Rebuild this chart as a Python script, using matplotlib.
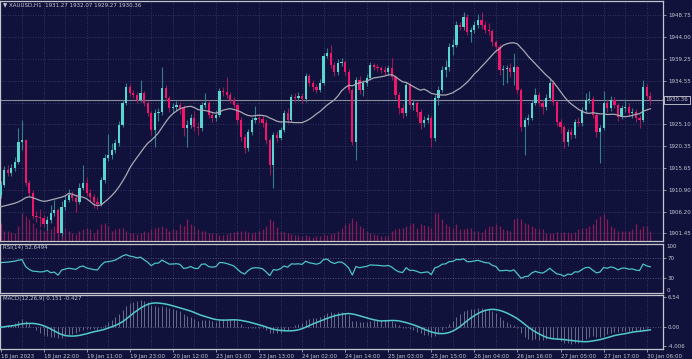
import numpy as np
import pandas as pd
import matplotlib
matplotlib.use('Agg')
import matplotlib.pyplot as plt


# XAUUSD H1, 18 Jan 2023 10:00 .. 30 Jan 2023 07:00
first_open = 1909.8
close = [
    1911.9, 1915.2, 1914.5, 1915.6, 1916.9, 1921.3, 1921.6, 1912.4, 1910.2, 1905.2,
    1905.0, 1904.8, 1903.6, 1904.3, 1905.9, 1906.5, 1901.6, 1907.2, 1908.7, 1909.8,
    1909.1, 1908.3, 1911.3, 1912.4, 1910.2, 1909.3, 1908.3, 1907.9, 1913.0, 1917.8,
    1918.4, 1919.5, 1921.0, 1924.9, 1929.7, 1933.2, 1931.9, 1931.4, 1930.4, 1931.9,
    1929.7, 1927.5, 1923.9, 1927.5, 1927.8, 1932.9, 1930.8, 1928.6, 1928.8, 1929.3,
    1928.6, 1924.3, 1924.9, 1926.5, 1924.5, 1924.3, 1929.3, 1929.7, 1927.1, 1926.5,
    1927.1, 1932.3, 1932.1, 1931.4, 1930.4, 1929.3, 1926.0, 1922.3, 1920.0, 1923.4,
    1926.0, 1926.5, 1926.3, 1925.4, 1921.7, 1916.3, 1922.8, 1922.1, 1923.9, 1927.5,
    1926.0, 1931.0, 1930.8, 1931.2, 1930.6, 1935.5, 1934.0, 1933.2, 1932.5, 1934.0,
    1939.9, 1940.5, 1937.9, 1936.4, 1938.4, 1938.6, 1936.4, 1932.5, 1921.3, 1934.7,
    1932.5, 1934.0, 1935.1, 1937.9, 1937.5, 1937.3, 1936.8, 1936.4, 1937.3, 1935.3,
    1931.4, 1928.6, 1927.5, 1933.6, 1929.3, 1929.6, 1927.8, 1925.4, 1926.0, 1926.5,
    1922.1, 1930.8, 1932.5, 1936.8, 1937.5, 1941.8, 1942.3, 1946.6, 1946.2, 1948.3,
    1945.1, 1945.5, 1946.6, 1947.7, 1946.6, 1945.5, 1945.3, 1942.9, 1941.8, 1936.8,
    1937.0, 1937.3, 1936.4, 1937.5, 1932.5, 1924.5, 1926.0, 1926.5, 1929.7, 1931.4,
    1929.7, 1928.8, 1930.8, 1934.0, 1929.9, 1925.6, 1924.5, 1921.3, 1923.4, 1922.8,
    1925.6, 1925.4, 1928.2, 1930.4, 1930.6, 1927.1, 1923.4, 1924.3, 1929.7, 1928.6,
    1930.4, 1929.3, 1926.7, 1928.6, 1928.8, 1927.5, 1927.8, 1926.5, 1926.0, 1933.2,
    1931.27, 1930.36,
]
high = [
    1912.8, 1916.0, 1916.2, 1916.4, 1918.0, 1924.3, 1926.0, 1922.0, 1913.0, 1910.8,
    1906.4, 1906.8, 1905.4, 1905.2, 1907.6, 1908.6, 1907.0, 1908.4, 1909.8, 1911.0,
    1910.6, 1910.0, 1912.4, 1916.2, 1913.6, 1911.0, 1910.0, 1909.4, 1913.6, 1918.6,
    1923.0, 1921.0, 1922.0, 1925.8, 1930.4, 1934.0, 1933.8, 1932.6, 1932.0, 1934.6,
    1932.4, 1930.2, 1928.0, 1928.4, 1928.6, 1937.5, 1933.6, 1931.2, 1929.8, 1930.2,
    1930.0, 1929.2, 1926.0, 1927.4, 1928.0, 1925.6, 1930.0, 1931.8, 1930.4, 1928.0,
    1928.2, 1933.0, 1933.2, 1935.3, 1932.0, 1931.0, 1929.8, 1926.6, 1923.0, 1924.0,
    1926.6, 1929.0, 1927.4, 1927.0, 1926.2, 1922.2, 1923.4, 1923.6, 1924.6, 1928.2,
    1928.6, 1931.6, 1931.8, 1932.0, 1931.8, 1936.2, 1936.0, 1934.6, 1933.8, 1934.8,
    1940.6, 1941.6, 1942.3, 1938.6, 1939.2, 1939.4, 1939.0, 1937.0, 1933.0, 1935.4,
    1935.6, 1934.6, 1936.0, 1938.6, 1938.4, 1938.2, 1937.8, 1937.6, 1938.0, 1939.4,
    1935.8, 1932.0, 1929.4, 1934.2, 1934.2, 1930.6, 1930.2, 1928.4, 1926.8, 1927.4,
    1927.0, 1931.4, 1933.4, 1937.6, 1939.0, 1942.6, 1943.6, 1947.4, 1947.2, 1949.4,
    1949.0, 1946.2, 1947.4, 1948.9, 1949.4, 1947.4, 1947.0, 1945.8, 1943.4, 1942.4,
    1938.0, 1938.0, 1938.4, 1940.6, 1938.0, 1933.0, 1926.6, 1927.4, 1930.4, 1933.0,
    1932.0, 1930.4, 1931.6, 1935.0, 1934.6, 1930.4, 1926.2, 1925.0, 1924.0, 1924.2,
    1926.2, 1926.6, 1928.8, 1931.8, 1932.2, 1931.2, 1927.6, 1925.0, 1932.2, 1930.4,
    1931.2, 1931.0, 1929.8, 1929.2, 1930.6, 1929.6, 1928.6, 1928.4, 1927.2, 1934.6,
    1933.8, 1932.07,
]
low = [
    1909.2, 1911.5, 1913.8, 1914.0, 1915.0, 1916.5, 1919.6, 1911.8, 1909.5, 1904.6,
    1904.0, 1902.9, 1902.8, 1902.2, 1903.8, 1905.2, 1900.9, 1901.0, 1906.6, 1908.2,
    1908.4, 1906.0, 1907.8, 1910.8, 1909.6, 1908.4, 1907.0, 1906.8, 1907.4, 1912.4,
    1917.2, 1917.6, 1918.8, 1920.4, 1924.4, 1929.2, 1931.2, 1930.8, 1929.6, 1929.9,
    1929.0, 1926.8, 1922.8, 1920.2, 1925.8, 1927.2, 1930.2, 1927.8, 1927.6, 1928.0,
    1927.4, 1922.6, 1920.2, 1924.2, 1923.6, 1922.8, 1923.6, 1928.6, 1926.4, 1925.6,
    1925.8, 1926.6, 1931.2, 1930.8, 1929.8, 1928.6, 1925.2, 1921.4, 1918.8, 1919.4,
    1922.8, 1925.4, 1925.4, 1924.6, 1920.8, 1914.1, 1911.3, 1921.2, 1921.6, 1923.4,
    1925.4, 1925.6, 1930.0, 1930.2, 1929.8, 1930.0, 1933.4, 1932.4, 1931.8, 1932.0,
    1933.6, 1939.4, 1937.2, 1935.6, 1935.8, 1937.6, 1935.8, 1931.8, 1920.6, 1917.4,
    1931.6, 1931.2, 1933.4, 1934.6, 1936.8, 1936.6, 1936.2, 1935.8, 1935.8, 1934.6,
    1930.6, 1927.4, 1926.4, 1926.8, 1928.4, 1928.2, 1926.6, 1924.0, 1924.6, 1925.4,
    1920.2, 1921.4, 1929.3, 1932.0, 1935.4, 1936.6, 1940.0, 1941.8, 1945.4, 1945.6,
    1944.4, 1942.9, 1944.8, 1946.0, 1945.8, 1944.8, 1944.4, 1942.0, 1940.8, 1935.8,
    1933.6, 1934.0, 1935.4, 1933.6, 1931.6, 1923.6, 1918.4, 1925.0, 1926.0, 1929.2,
    1929.0, 1927.4, 1928.2, 1930.2, 1929.2, 1924.8, 1923.2, 1920.0, 1920.4, 1921.8,
    1922.2, 1924.8, 1924.8, 1927.6, 1929.8, 1926.4, 1922.4, 1916.8, 1923.8, 1927.8,
    1928.0, 1928.6, 1925.8, 1926.2, 1927.8, 1926.8, 1926.4, 1925.6, 1924.2, 1925.6,
    1930.8, 1929.27,
]
tick_volume = [
    1800, 1000, 1000, 900, 800, 1500, 2800, 2500, 2200, 1800,
    1300, 1200, 1000, 1300, 1200, 1500, 2200, 2500, 1300, 1000,
    800, 700, 1000, 1200, 1300, 1200, 800, 1200, 1700, 1800,
    1500, 1000, 1200, 1300, 1300, 1000, 800, 800, 700, 800,
    1000, 900, 1200, 1300, 1400, 1500, 1300, 1000, 1200, 1100,
    1700, 1500, 2200, 1700, 1500, 1200, 1000, 1000, 800, 800,
    800, 600, 600, 700, 800, 900, 1000, 1000, 1000, 900,
    800, 900, 1000, 1200, 1500, 2200, 2000, 1400, 1000, 900,
    800, 700, 600, 600, 500, 600, 500, 400, 500, 500,
    700, 600, 700, 800, 1000, 1300, 1700, 1800, 2300, 2000,
    1500, 1300, 1000, 800, 700, 600, 500, 500, 600, 1000,
    1200, 1300, 1300, 1500, 1700, 1800, 1300, 1700, 1600, 1500,
    1300, 2800, 2800, 2200, 1700, 1500, 1300, 1700, 1200, 1200,
    1300, 1300, 1000, 1000, 900, 1200, 1500, 1500, 1700, 1500,
    1200, 1100, 1000, 2200, 2300, 2200, 1800, 1700, 1500, 1300,
    1200, 1200, 800, 800, 800, 900, 900, 900, 900, 800,
    900, 1200, 1300, 1300, 1500, 1700, 2200, 2500, 2700, 2200,
    1500, 1300, 1000, 1000, 1000, 1000, 1200, 1700, 1200, 1500,
    1500, 1000,
]
# indicator values on the first bars (their history lies left of the chart)
ma_head = [1907.2, 1907.4, 1907.6, 1907.8, 1908.0, 1908.3, 1908.7, 1909.2, 1909.4, 1909.2,
           1908.9, 1908.6, 1908.4, 1908.5, 1908.7, 1908.9, 1909.1, 1909.3, 1909.6]
rsi_head = [61, 61.5, 62, 63, 64, 66, 67, 53, 47, 43.5, 43, 42, 42.5, 45]

time_labels = ['18 Jan 2023', '18 Jan 22:00', '19 Jan 11:00', '19 Jan 23:00', '20 Jan 12:00',
               '23 Jan 01:00', '23 Jan 13:00', '24 Jan 02:00', '24 Jan 14:00', '25 Jan 03:00',
               '25 Jan 15:00', '26 Jan 04:00', '26 Jan 16:00', '27 Jan 05:00', '27 Jan 17:00',
               '30 Jan 06:00']
price_ticks = [1948.75, 1944.00, 1939.25, 1934.55, 1929.80, 1925.10,
               1920.35, 1915.65, 1910.90, 1906.20, 1901.45]
last_price = 1930.36

W, H = 692, 359
BG = '#10123b'
GRID = '#3d4170'
FRAME = '#c4c4cc'
TXT = '#c8c8d2'
BULL, BULL_WICK = '#58d6cf', '#347f8c'
BEAR, BEAR_WICK = '#f2166b', '#9a1a55'
FS = 4.0
PX_PER_BAR = 3.59
X0 = 0.5


def px_rect(x0, y0, x1, y1):
    return [x0 / W, 1 - y1 / H, (x1 - x0) / W, (y1 - y0) / H]


def style_panel(ax):
    ax.set_facecolor(BG)
    for s in ax.spines.values():
        s.set_color(FRAME)
        s.set_linewidth(0.9)
    ax.set_xlim(-X0 / PX_PER_BAR, (663 - X0) / PX_PER_BAR)
    ax.set_xticks([])
    ax.tick_params(axis='y', left=False, labelleft=False, right=True, labelright=True,
                   length=2, width=0.5, color=FRAME, labelsize=FS, labelcolor=TXT, pad=1.5)
    for b in range(6, len(close) + 3, 6):
        ax.axvline(b, color=GRID, lw=0.6, ls=(0, (1, 2)), zorder=0)


def compute_rsi(c, period=14):
    delta = np.diff(c, prepend=np.nan)
    gain = np.clip(delta, 0, None)
    loss = np.clip(-delta, 0, None)
    avg_g = np.full(len(c), np.nan)
    avg_l = np.full(len(c), np.nan)
    avg_g[period] = gain[1:period + 1].mean()
    avg_l[period] = loss[1:period + 1].mean()
    for i in range(period + 1, len(c)):
        avg_g[i] = (avg_g[i - 1] * (period - 1) + gain[i]) / period
        avg_l[i] = (avg_l[i - 1] * (period - 1) + loss[i]) / period
    rsi = 100 - 100 / (1 + avg_g / avg_l)
    rsi[:period] = rsi_head
    return rsi


c = np.array(close)
o = np.r_[first_open, c[:-1]]
hi = np.maximum(np.array(high), np.maximum(o, c))
lo = np.minimum(np.array(low), np.minimum(o, c))
x = np.arange(len(c))

cs = pd.Series(c)
ma = cs.rolling(20).mean().to_numpy()
ma[:len(ma_head)] = ma_head
rsi = compute_rsi(c)
macd = (cs.ewm(span=12, adjust=False).mean() - cs.ewm(span=26, adjust=False).mean()).to_numpy()
signal = pd.Series(macd).rolling(9, min_periods=1).mean().to_numpy()

plt.rcParams['font.family'] = 'DejaVu Sans'
fig = plt.figure(figsize=(W / 100, H / 100), dpi=100, facecolor=BG)

# main price panel, volume drawn on an axes underneath
rect_main = px_rect(0, 1, 663, 241)
ax_vol = fig.add_axes(rect_main)
ax_vol.set_facecolor(BG)
ax_vol.set_xlim(-X0 / PX_PER_BAR, (663 - X0) / PX_PER_BAR)
ax_vol.set_ylim(0, 24000)
ax_vol.vlines(x, 0, tick_volume, color='#8a1a5a', lw=0.9)
ax_vol.axis('off')

ax = fig.add_axes(rect_main)
style_panel(ax)
ax.set_facecolor('none')
ax.set_ylim(1899.82, 1951.78)
ax.set_yticks(price_ticks)
ax.set_yticklabels(['' if abs(p - 1929.80) < 0.01 else f'{p:.2f}' for p in price_ticks])
for p in price_ticks:
    ax.axhline(p, color=GRID, lw=0.6, ls=(0, (1, 2)), zorder=0)

up = c >= o
dn = ~up
body_lo = np.minimum(o, c)
body_h = np.maximum(np.abs(c - o), 0.15)
ax.vlines(x[up], lo[up], hi[up], color=BULL_WICK, lw=0.8, zorder=2)
ax.vlines(x[dn], lo[dn], hi[dn], color=BEAR_WICK, lw=0.8, zorder=2)
ax.bar(x[up], body_h[up], bottom=body_lo[up], width=0.62, color=BULL, linewidth=0, zorder=3)
ax.bar(x[dn], body_h[dn], bottom=body_lo[dn], width=0.62, color=BEAR, linewidth=0, zorder=3)
ax.plot(x, ma, color='#a9a9b4', lw=0.9, zorder=4)

ax.axhline(last_price, color='#8c8c9c', lw=0.8, zorder=1)
ax.text(1.004, last_price, f'{last_price:.2f}', transform=ax.get_yaxis_transform(),
        fontsize=FS, color=TXT, va='center', ha='left', zorder=6, clip_on=False,
        bbox=dict(boxstyle='square,pad=0.25', fc=BG, ec='#d0d0d8', lw=0.6))
ax.text(0.004, 0.995, '\u25bc XAUUSD,H1  1931.27 1932.07 1929.27 1930.36',
        transform=ax.transAxes, fontsize=FS, color=TXT, va='top', ha='left')

# RSI panel
ax_rsi = fig.add_axes(px_rect(0, 243.5, 663, 292.5))
style_panel(ax_rsi)
ax_rsi.set_ylim(0, 100)
ax_rsi.set_yticks([70, 30])
ax_rsi.set_yticklabels(['70', '30'])
for lvl in (70, 30):
    ax_rsi.axhline(lvl, color='#6a6d8c', lw=0.6, ls=(0, (1, 2)), zorder=0)
for lvl, va in ((100, 'top'), (0, 'bottom')):
    ax_rsi.text(1.005, lvl, str(lvl), transform=ax_rsi.get_yaxis_transform(),
                fontsize=FS, color=TXT, va=va, ha='left', clip_on=False)
ax_rsi.plot(x, rsi, color='#4cc3c5', lw=0.9)
ax_rsi.text(0.004, 0.97, 'RSI(14) 52.6494', transform=ax_rsi.transAxes,
            fontsize=FS, color=TXT, va='top', ha='left')

# MACD panel
ax_macd = fig.add_axes(px_rect(0, 294.5, 663, 349))
style_panel(ax_macd)
ax_macd.set_ylim(-4.65, 7.08)
ax_macd.set_yticks([6.54, 0.0, -4.006])
ax_macd.set_yticklabels(['6.54', '0.00', '-4.006'])
ax_macd.axhline(0, color='#6a6d8c', lw=0.6, ls=(0, (1, 2)), zorder=0)
ax_macd.vlines(x, 0, macd, color='#767a96', lw=0.6, zorder=2)
ax_macd.plot(x, signal, color='#52c8cb', lw=1.1, zorder=3)
ax_macd.text(0.004, 0.97, 'MACD(12,26,9) 0.151 -0.427', transform=ax_macd.transAxes,
             fontsize=FS, color=TXT, va='top', ha='left')

label_bars = np.arange(len(time_labels)) * 12
ax_macd.set_xticks(label_bars)
ax_macd.set_xticklabels(time_labels)
ax_macd.tick_params(axis='x', bottom=True, length=2, width=0.5, color=FRAME,
                    labelsize=FS, labelcolor=TXT, pad=1.5)
for lbl in ax_macd.get_xticklabels():
    lbl.set_ha('left')

fig.savefig('out.png', dpi=100, facecolor=BG)
